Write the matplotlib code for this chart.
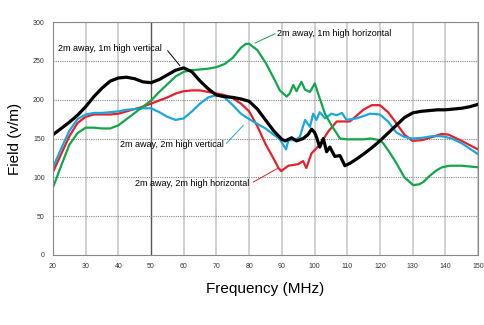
import numpy as np
import matplotlib
matplotlib.use('Agg')
import matplotlib.pyplot as plt

plt.rcParams['font.family'] = ['Liberation Sans', 'DejaVu Sans']

# 2m away, 1m high vertical (black)
black_f = [20, 22.5, 25, 27.5, 30, 32.5, 35, 37.5, 40, 42.5, 45, 47.5, 50, 52.5, 55, 57.5, 60, 62.5, 65,
           67.5, 70, 72.5, 75, 77.5, 80, 82.5, 85, 87.5, 90, 91, 92, 93, 94.5, 96.5, 98, 99.1, 100, 100.6,
           101.6, 102.7, 103.7, 104.7, 106.2, 107.8, 109.3, 110.8, 113, 115, 117.5, 120, 122.5, 125, 127.5,
           130, 132.5, 135, 137.5, 140, 142.5, 145, 147.5, 150]
black_v = [155, 163, 171, 180, 191, 204, 215, 224, 228, 229, 227, 223, 222, 226, 232, 238, 241, 236, 224,
           214, 206, 204, 203, 201, 198, 188, 174, 160, 149, 147, 149, 151, 147, 150, 155, 162, 158, 152,
           139, 150, 133, 139, 127, 128, 115, 118, 124, 130, 138, 147, 157, 167, 177, 183, 185, 186, 187,
           187, 188, 189, 191, 194]

# 2m away, 2m high horizontal (red)
red_f = [20, 22.5, 25, 27.5, 30, 32.5, 35, 37.5, 40, 42.5, 45, 47.5, 50, 52.5, 55, 57.5, 60, 62.5, 65, 67.5,
         70, 72.5, 75, 77.5, 80, 82.5, 85, 87.5, 89, 89.8, 92, 93.5, 95, 96.5, 97.5, 99.1, 101.6, 104.2,
         106.8, 110.8, 112.5, 114.9, 117.5, 120, 122.5, 125, 127.5, 130, 133, 136, 138.9, 141, 145, 150]
red_v = [107, 130, 153, 170, 178, 181, 181, 181, 182, 185, 188, 191, 195, 199, 203, 208, 211, 212, 212, 210,
         208, 206, 202, 195, 185, 166, 143, 124, 112, 108, 115, 116, 117, 121, 112, 131, 142, 159,
         172, 172, 178, 187, 193, 193, 184, 170, 155, 147, 148, 152, 156, 155, 147, 136]

# 2m away, 2m high vertical (cyan)
cyan_f = [20, 22.5, 25, 27.5, 30, 32.5, 35, 37.5, 40, 42.5, 45, 47.5, 50, 52.5, 55, 57.5, 60, 62.5, 65, 67.5,
          70, 72.5, 75, 77.5, 80, 82.5, 85, 87.5, 89.4, 91.3, 92, 94, 95.5, 97.1, 98.6, 99.6, 100.6, 101.6,
          103.2, 105.2, 106.8, 108.4, 109.8, 112.9, 117, 120, 122.5, 125, 127.5, 130, 133, 136, 139, 142,
          145, 150]
cyan_v = [113, 137, 160, 175, 181, 183, 183, 184, 185, 187, 188, 189, 189, 184, 178, 174, 176, 185, 195, 203,
          206, 203, 193, 182, 175, 169, 163, 155, 149, 136, 148, 148, 152, 174, 165, 182, 174, 184,
          176, 182, 180, 183, 174, 176, 182, 181, 172, 158, 152, 150, 151, 153, 153, 150,
          144, 130]

# 2m away, 1m high horizontal (green)
green_f = [20, 22.5, 25, 27.5, 30, 32.5, 35, 37.5, 40, 42.5, 45, 47.5, 50, 52.5, 55, 57.5, 60, 62.5, 65, 67.5,
           70, 72.5, 75, 77.5, 79, 80, 82.5, 85, 87.5, 89.4, 91.5, 92.4, 93.5, 94.5, 96, 97.1, 98.6, 100.1, 101.1,
           103.2, 105.2, 107.8, 110, 115, 117, 120, 121, 123, 125.1, 127.5, 130.2, 132, 133.3, 135, 137.3,
           139, 141.4, 145, 150]
green_v = [87, 115, 142, 157, 164, 164, 163, 163, 167, 175, 183, 191, 199, 210, 220, 230, 236, 238, 239, 240,
           242, 246, 254, 267, 272, 272, 264, 248, 228, 212, 204, 208, 219, 211, 223, 213, 210, 221, 208,
           182, 167, 150, 149, 149, 150, 148, 144, 132, 118, 100, 90, 91, 94, 101, 109,
           113, 115, 115, 113]

fig = plt.figure(figsize=(4.84, 3.25), dpi=100)
ax = fig.add_axes([0.1095, 0.2154, 0.878, 0.7166])

ax.plot(red_f, red_v, color='#e8202a', linewidth=1.6)
ax.plot(cyan_f, cyan_v, color='#1aa7e0', linewidth=1.6)
ax.plot(green_f, green_v, color='#12a64a', linewidth=1.6)
ax.plot(black_f, black_v, color='black', linewidth=2.3)

ax.set_xlim(20, 150)
ax.set_ylim(0, 300)
ax.set_xticks(np.arange(20, 151, 10))
ax.set_yticks(np.arange(0, 301, 50))
ax.tick_params(labelsize=5, length=0, pad=6, colors='#333333')

for xv in np.arange(30, 151, 10):
    ax.axvline(xv, color='#555555' if xv == 50 else '#c8c8c8', linewidth=1.0 if xv == 50 else 1.2, zorder=0)
for yv in np.arange(50, 301, 50):
    ax.axhline(yv, color='#888888', linewidth=0.8, linestyle=(0, (1, 1)), zorder=0)
for s in ax.spines.values():
    s.set_color('#888888')
    s.set_linewidth(0.8)
    s.set_linestyle((0, (1, 1)))

ax.set_xlabel('Frequency (MHz)', fontsize=11)
ax.set_ylabel('Field (v/m)', fontsize=11)
ax.xaxis.set_label_coords(0.5, -0.115)
ax.yaxis.set_label_coords(-0.072, 0.5)

fs = 6.5
ax.text(37.5, 266, '2m away, 1m high vertical', fontsize=fs, ha='center', va='center')
ax.plot([55.1, 58.8], [263, 244], color='black', linewidth=0.7)
ax.text(88.5, 285, '2m away, 1m high horizontal', fontsize=fs, ha='left', va='center')
ax.plot([81.8, 87.9], [273, 285], color='#12a64a', linewidth=0.7)
ax.text(56.5, 142, '2m away, 2m high vertical', fontsize=fs, ha='center', va='center')
ax.plot([73.1, 78.2], [144, 167], color='#1aa7e0', linewidth=0.7)
ax.text(62.5, 92, '2m away, 2m high horizontal', fontsize=fs, ha='center', va='center')
ax.plot([81.3, 88.9], [94, 112], color='#e8202a', linewidth=0.7)

fig.savefig('out.png', dpi=100)
